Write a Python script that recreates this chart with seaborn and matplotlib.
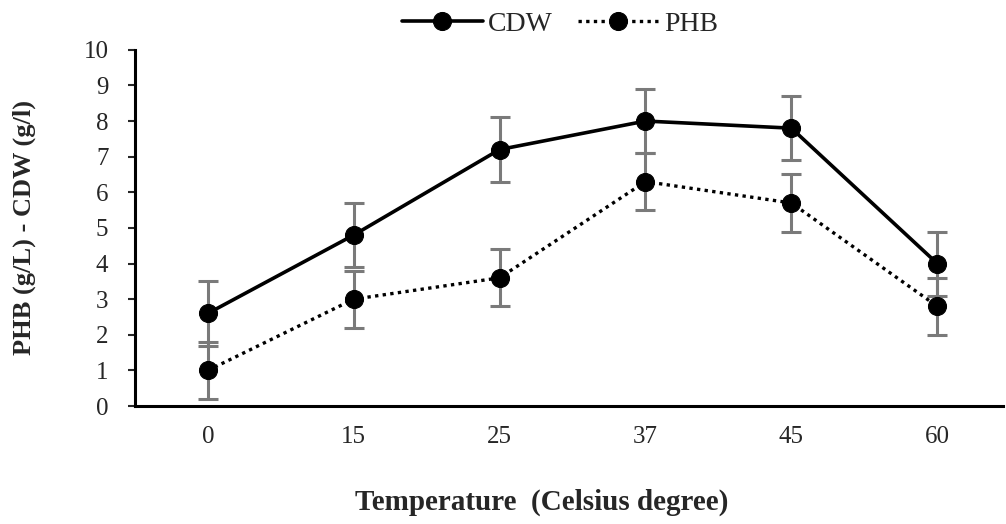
import matplotlib
matplotlib.use("Agg")
import matplotlib.pyplot as plt
import seaborn as sns
import pandas as pd
import numpy as np

temps = ["0", "15", "25", "37", "45", "60"]
cdw = [2.6, 4.8, 7.2, 8.0, 7.8, 4.0]
phb = [1.0, 3.0, 3.6, 6.3, 5.7, 2.8]
cdw_err = [0.9, 0.9, 0.9, 0.9, 0.9, 0.9]
phb_err = [0.8, 0.8, 0.8, 0.8, 0.8, 0.8]

sns.set_style("white")
plt.rcParams['font.family'] = ['Liberation Serif', 'DejaVu Serif']

pos = list(range(len(temps)))
df = pd.DataFrame({
    "pos": pos * 2,
    "value": cdw + phb,
    "series": ["CDW"] * len(temps) + ["PHB"] * len(temps),
})

fig = plt.figure(figsize=(10.06, 5.24), dpi=100)
ax = fig.add_axes([0.134, 0.225, 0.863, 0.68])

ax.errorbar(pos, cdw, yerr=cdw_err, fmt="none", ecolor="#7a7a7a",
            elinewidth=2.2, capsize=7.5, capthick=2.2, zorder=1)
ax.errorbar(pos, phb, yerr=phb_err, fmt="none", ecolor="#7a7a7a",
            elinewidth=2.2, capsize=7.5, capthick=2.2, zorder=1)

sns.lineplot(data=df[df.series == "CDW"], x="pos", y="value", ax=ax,
             color="black", linewidth=2.6, marker="o", markersize=13,
             markeredgecolor="black", label="CDW", zorder=3)
sns.lineplot(data=df[df.series == "PHB"], x="pos", y="value", ax=ax,
             color="black", linewidth=2.4, linestyle=(0, (1, 1.3)), marker="o",
             markersize=13, markeredgecolor="black", label="PHB", zorder=3)

ax.set_xlim(-0.5, 5.45)
ax.set_ylim(0, 10)
ax.set_yticks(range(0, 11))
ax.set_xticks(pos)
ax.set_xticklabels(temps)
ax.tick_params(axis="both", labelsize=18)
ax.tick_params(axis="y", length=5, width=1.5, left=True, direction="out", pad=14)
ax.tick_params(axis="x", length=0, pad=14)

for s in ["top", "right"]:
    ax.spines[s].set_visible(False)
for s in ["left", "bottom"]:
    ax.spines[s].set_color("black")
    ax.spines[s].set_linewidth(2.2)

ax.set_xlabel("Temperature  (Celsius degree)", fontsize=21, fontweight="bold")
ax.xaxis.set_label_coords(0.469, -0.232)
ax.set_ylabel("PHB (g/L) - CDW (g/l)", fontsize=19, fontweight="bold")
ax.yaxis.set_label_coords(-0.114, 0.5)

leg = ax.legend(loc="lower center", bbox_to_anchor=(0.49, 1.005), ncol=2, frameon=False,
                fontsize=20, handlelength=2.9, columnspacing=0.9, handletextpad=0.2,
                borderaxespad=0)

fig.savefig("out.png", dpi=100)
